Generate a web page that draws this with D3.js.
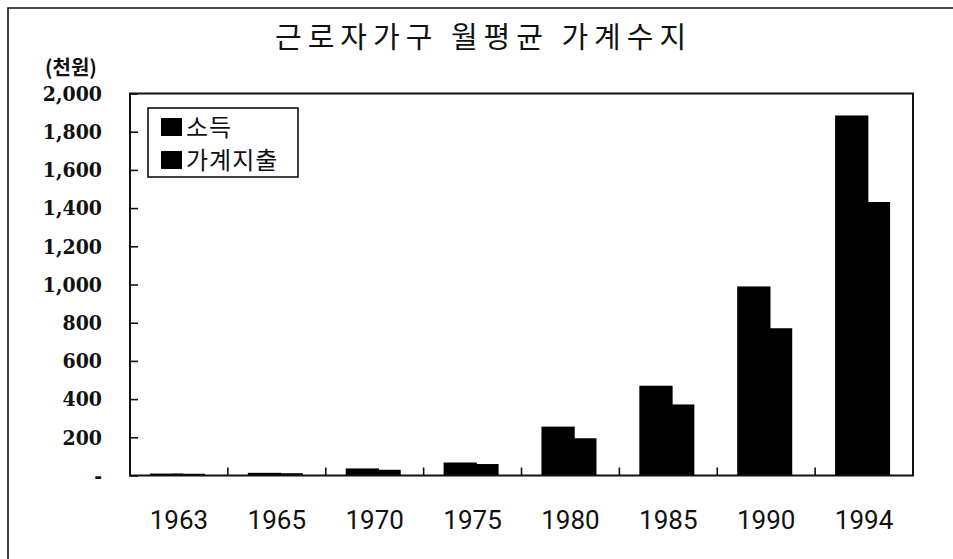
<!DOCTYPE html>
<html>
<head>
<meta charset="utf-8">
<script src="https://cdn.jsdelivr.net/npm/d3@7"></script>
<style>
  html, body { margin: 0; padding: 0; background: #fff; }
  svg { display: block; }
</style>
</head>
<body>
<svg id="chart" width="953" height="559"></svg>
<script>
// ---- data ----
const years = ["1963", "1965", "1970", "1975", "1980", "1985", "1990", "1994"];
const income = [10, 14, 37, 68, 256, 470, 990, 1885];      // 소득 (천원)
const expense = [9, 12, 30, 60, 195, 372, 771, 1432];     // 가계지출 (천원)
const yTicks = [0, 200, 400, 600, 800, 1000, 1200, 1400, 1600, 1800, 2000];
const seriesNames = ["소득", "가계지출"];
const title = "근로자가구 월평균 가계수지";
const unitLabel = "(천원)";

// ---- layout ----
const svg = d3.select("#chart");
const plot = { left: 130, right: 913, top: 93.5, bottom: 475.5 };

const x = d3.scaleBand().domain(years).range([plot.left, plot.right]).padding(0);
const y = d3.scaleLinear().domain([0, 2000]).range([plot.bottom, plot.top]);

// outer frame (left and top edges)
svg.append("path")
  .attr("d", "M8,559 L8,8 L953,8")
  .attr("fill", "none").attr("stroke", "#111").attr("stroke-width", 1.6);

// title
svg.append("text")
  .attr("x", 275).attr("y", 48)
  .attr("font-family", "'Noto Sans CJK KR', sans-serif")
  .attr("font-size", 29).attr("letter-spacing", 6)
  .attr("fill", "#111")
  .text(title);

// unit label
svg.append("text")
  .attr("x", 45).attr("y", 75)
  .attr("font-family", "'Noto Sans CJK KR', sans-serif")
  .attr("font-weight", 700)
  .attr("font-size", 20)
  .attr("fill", "#111")
  .text(unitLabel);

// bars
const bw = x.bandwidth();
const g = svg.append("g");
g.selectAll("rect.exp").data(years).join("rect")
  .attr("class", "exp")
  .attr("x", (d) => x(d) + 0.429 * bw)
  .attr("width", 0.337 * bw)
  .attr("y", (d, i) => y(expense[i]))
  .attr("height", (d, i) => y(0) - y(expense[i]))
  .attr("fill", "#000");
g.selectAll("rect.inc").data(years).join("rect")
  .attr("class", "inc")
  .attr("x", (d) => x(d) + 0.204 * bw)
  .attr("width", 0.34 * bw)
  .attr("y", (d, i) => y(income[i]))
  .attr("height", (d, i) => y(0) - y(income[i]))
  .attr("fill", "#000");

// plot frame
svg.append("rect")
  .attr("x", plot.left).attr("y", plot.top)
  .attr("width", plot.right - plot.left).attr("height", plot.bottom - plot.top)
  .attr("fill", "none").attr("stroke", "#111").attr("stroke-width", 2);

// y axis
const yAxis = d3.axisLeft(y)
  .tickValues(yTicks)
  .tickSizeInner(-8).tickSizeOuter(0).tickPadding(28)
  .tickFormat((d) => d === 0 ? "-" : d3.format(",")(d));
const ya = svg.append("g").attr("transform", `translate(${plot.left},0)`).call(yAxis);
ya.select(".domain").remove();
ya.selectAll("line").attr("stroke", "#111").attr("stroke-width", 1.6);
ya.selectAll("text")
  .attr("font-family", "'DejaVu Serif Condensed', 'DejaVu Serif', serif")
  .attr("font-stretch", "condensed")
  .attr("font-weight", 700)
  .attr("font-size", 21)
  .attr("fill", "#111");

// x category boundary ticks
svg.append("g").selectAll("line").data(years.slice(1)).join("line")
  .attr("x1", (d) => x(d)).attr("x2", (d) => x(d))
  .attr("y1", plot.bottom).attr("y2", plot.bottom - 8)
  .attr("stroke", "#111").attr("stroke-width", 1.6);

// x axis labels
const xAxis = d3.axisBottom(x).tickSize(0).tickPadding(35);
const xa = svg.append("g").attr("transform", `translate(0,${plot.bottom})`).call(xAxis);
xa.select(".domain").remove();
xa.selectAll("text")
  .attr("font-family", "'Liberation Sans Narrow', 'Roboto', sans-serif")
  .attr("font-size", 26)
  .attr("fill", "#111");

// legend
const leg = svg.append("g");
leg.append("rect")
  .attr("x", 148).attr("y", 108).attr("width", 150).attr("height", 69)
  .attr("fill", "#fff").attr("stroke", "#111").attr("stroke-width", 1.6);
seriesNames.forEach((name, i) => {
  const cy = 127 + i * 33;
  leg.append("rect")
    .attr("x", 161).attr("y", cy - 9).attr("width", 21).attr("height", 18)
    .attr("fill", "#000");
  leg.append("text")
    .attr("x", 186).attr("y", cy + 9)
    .attr("font-family", "'Noto Sans CJK KR', sans-serif")
    .attr("font-size", 24).attr("letter-spacing", 1)
    .attr("fill", "#111")
    .text(name);
});
</script>
</body>
</html>
